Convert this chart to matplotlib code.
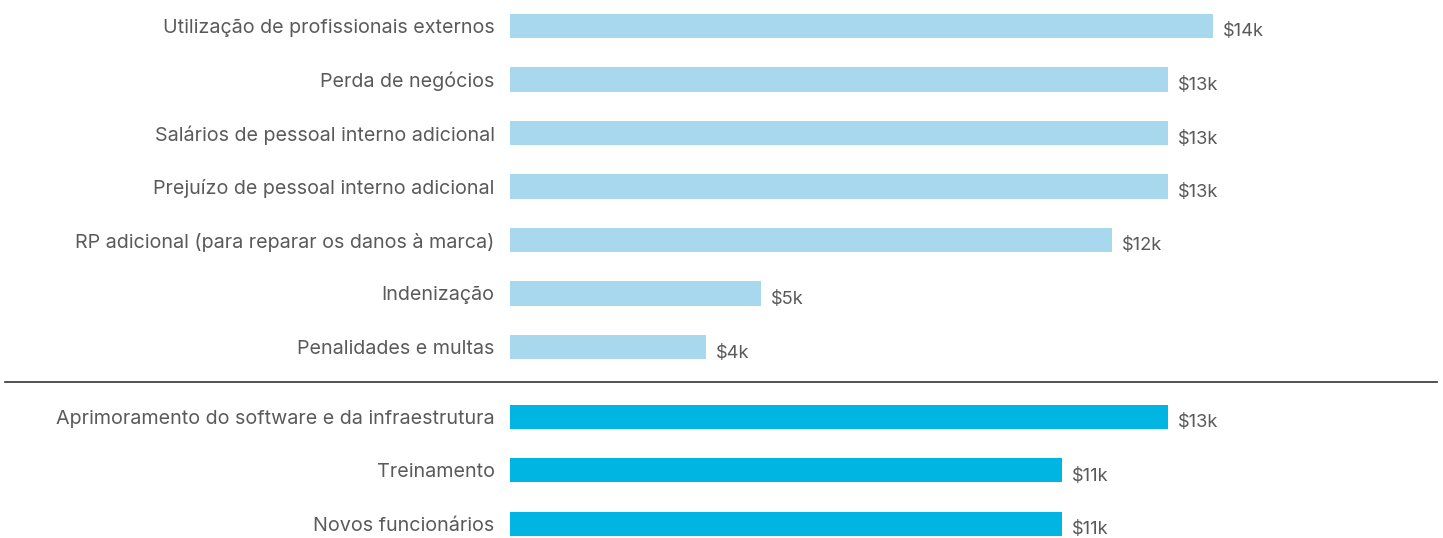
import matplotlib
matplotlib.use("Agg")
import matplotlib.pyplot as plt
from matplotlib.lines import Line2D
import matplotlib.transforms as mtransforms

categories = [
    "Utilização de profissionais externos",
    "Perda de negócios",
    "Salários de pessoal interno adicional",
    "Prejuízo de pessoal interno adicional",
    "RP adicional (para reparar os danos à marca)",
    "Indenização",
    "Penalidades e multas",
    "Aprimoramento do software e da infraestrutura",
    "Treinamento",
    "Novos funcionários",
]
values = [14.0, 13.1, 13.1, 13.1, 12.0, 5.0, 3.9, 13.1, 11.0, 11.0]
value_labels = ["$14k", "$13k", "$13k", "$13k", "$12k", "$5k", "$4k", "$13k", "$11k", "$11k"]
group = [0, 0, 0, 0, 0, 0, 0, 1, 1, 1]

plt.rcParams['font.family'] = ['Inter', 'DejaVu Sans']

W, H = 1443, 538
fig = plt.figure(figsize=(W / 100, H / 100), dpi=100)
left_px, right_px = 510, 1440
ax = fig.add_axes([left_px / W, 0, (right_px - left_px) / W, 1])

px_per_k = 50.2
ax.set_xlim(0, (right_px - left_px) / px_per_k)
row_px = 53.5
top_px = 26
ax.set_ylim((H - top_px) / row_px, -top_px / row_px)

gap = 0.3
ypos = [i + (gap if g == 1 else 0) for i, g in enumerate(group)]
colors = ["#A8D8EE" if g == 0 else "#00B5E2" for g in group]

ax.barh(ypos, values, height=0.45, color=colors, edgecolor='none')

text_color = "#5a5a5a"
for y, v, lab in zip(ypos, values, value_labels):
    ax.annotate(lab, xy=(v, y), xytext=(10, -6), textcoords='offset pixels',
                ha='left', va='center', fontsize=13.2, color=text_color)

ax.set_yticks(ypos)
ax.set_yticklabels(categories, fontsize=14.2, color=text_color)
ax.tick_params(axis='y', length=0, pad=11)
ax.tick_params(axis='x', bottom=False, labelbottom=False)
for s in ax.spines.values():
    s.set_visible(False)

# separator line between groups
y_sep = (ypos[6] + ypos[7]) / 2
trans = mtransforms.blended_transform_factory(fig.transFigure, ax.transData)
fig.add_artist(Line2D([5 / W, 1437 / W], [y_sep, y_sep], transform=trans,
                      color="#333333", linewidth=1.2))

fig.savefig("out.png", dpi=100)
